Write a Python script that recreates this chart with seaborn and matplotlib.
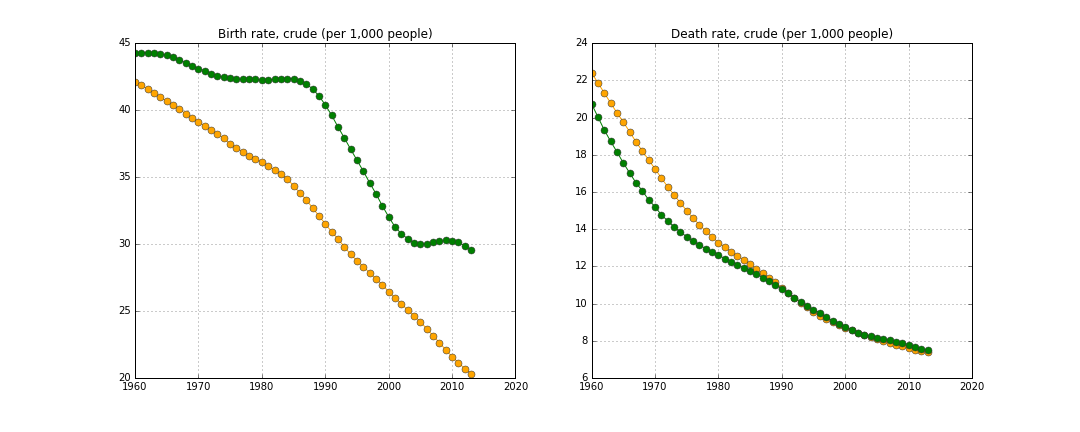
import pandas as pd
import matplotlib
matplotlib.use('Agg')
import matplotlib.pyplot as plt
import seaborn as sns

# years shared by all series
years = list(range(1960, 2014))

# birth rate, crude (per 1,000 people)
birth_orange = [42.11, 41.87, 41.57, 41.29, 40.97, 40.67, 40.37, 40.07, 39.73, 39.45,
                39.13, 38.83, 38.53, 38.23, 37.89, 37.49, 37.19, 36.89, 36.59, 36.32,
                36.13, 35.85, 35.55, 35.25, 34.88, 34.35, 33.83, 33.31, 32.71, 32.11,
                31.52, 30.92, 30.40, 29.80, 29.25, 28.76, 28.31, 27.86, 27.41, 26.97,
                26.44, 25.99, 25.55, 25.07, 24.65, 24.20, 23.68, 23.16, 22.64, 22.11,
                21.59, 21.14, 20.70, 20.32]
birth_green = [44.28, 44.30, 44.30, 44.28, 44.20, 44.10, 43.98, 43.76, 43.53, 43.31,
               43.08, 42.96, 42.71, 42.56, 42.46, 42.41, 42.36, 42.29, 42.29, 42.29,
               42.24, 42.26, 42.31, 42.34, 42.36, 42.36, 42.21, 41.96, 41.59, 41.07,
               40.40, 39.63, 38.76, 37.94, 37.09, 36.27, 35.45, 34.58, 33.76, 32.86,
               32.04, 31.29, 30.77, 30.40, 30.10, 30.02, 30.02, 30.12, 30.20, 30.27,
               30.20, 30.12, 29.88, 29.58]

# death rate, crude (per 1,000 people)
death_orange = [22.41, 21.87, 21.33, 20.79, 20.26, 19.77, 19.24, 18.70, 18.21, 17.73,
                17.25, 16.76, 16.28, 15.85, 15.42, 15.00, 14.60, 14.24, 13.90, 13.59,
                13.27, 13.06, 12.79, 12.57, 12.36, 12.14, 11.86, 11.66, 11.39, 11.14,
                10.84, 10.57, 10.30, 10.03, 9.80, 9.56, 9.35, 9.19, 9.03, 8.86,
                8.70, 8.58, 8.43, 8.33, 8.22, 8.11, 8.00, 7.90, 7.79, 7.72,
                7.63, 7.52, 7.45, 7.41]
death_green = [20.74, 20.04, 19.34, 18.73, 18.16, 17.57, 17.03, 16.50, 16.07, 15.58,
               15.21, 14.78, 14.45, 14.13, 13.86, 13.59, 13.38, 13.16, 12.95, 12.79,
               12.63, 12.41, 12.25, 12.09, 11.93, 11.77, 11.60, 11.39, 11.23, 11.01,
               10.80, 10.58, 10.32, 10.10, 9.89, 9.67, 9.51, 9.29, 9.08, 8.92,
               8.76, 8.60, 8.43, 8.33, 8.27, 8.17, 8.11, 8.06, 7.95, 7.90,
               7.79, 7.68, 7.58, 7.52]

titles = ['Birth rate, crude (per 1,000 people)', 'Death rate, crude (per 1,000 people)']

plt.style.use('classic')
plt.rcParams['font.family'] = ['DejaVu Sans']
plt.rcParams['xtick.labelsize'] = 10
plt.rcParams['ytick.labelsize'] = 10
plt.rcParams['axes.titlesize'] = 12
plt.rcParams['axes.formatter.useoffset'] = False

df_birth = pd.DataFrame({'year': years, 'orange': birth_orange, 'green': birth_green})
df_death = pd.DataFrame({'year': years, 'orange': death_orange, 'green': death_green})

fig, axes = plt.subplots(1, 2, figsize=(15, 6), dpi=72)
fig.subplots_adjust(left=0.125, right=0.9, top=0.9, bottom=0.125, wspace=0.2)
fig.patch.set_facecolor('white')

for ax, df, title, ylim in zip(axes, [df_birth, df_death], titles, [(20, 45), (6, 24)]):
    # orange first, green on top
    sns.lineplot(x='year', y='orange', data=df, ax=ax, color='orange', marker='o',
                 markersize=7, markeredgecolor='#333333', markeredgewidth=0.5, linewidth=1)
    sns.lineplot(x='year', y='green', data=df, ax=ax, color='green', marker='o',
                 markersize=7, markeredgecolor='#333333', markeredgewidth=0.5, linewidth=1)
    ax.set_xlim(1960, 2020)
    ax.set_ylim(*ylim)
    ax.ticklabel_format(useOffset=False, style='plain')
    ax.set_title(title)
    ax.set_xlabel('')
    ax.set_ylabel('')
    ax.grid(True, color='#999999', linestyle=':', linewidth=1)
    ax.set_axisbelow(True)

plt.savefig('out.png', dpi=72, facecolor='white')
